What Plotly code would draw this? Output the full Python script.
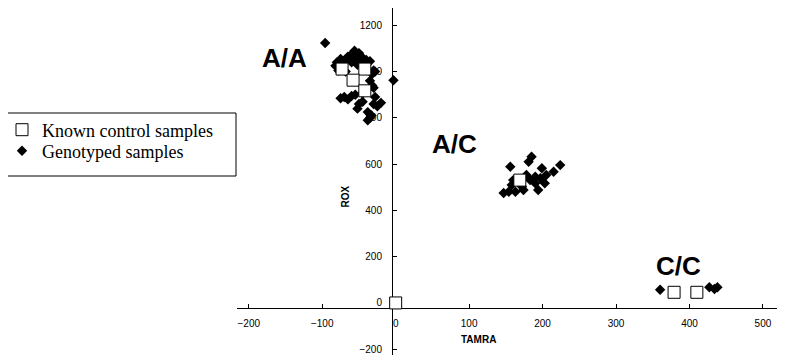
import plotly.graph_objects as go

# Known control samples (TAMRA, ROX)
control_tamra = [-73, -42, -58, -42, 169, 379, 410, 0]
control_rox = [1011, 1011, 963, 917, 531, 46, 46, 0]

# Genotyped samples (TAMRA, ROX)
geno_tamra = [
    -96, -3,
    -56, -60, -50, -65, -75, -80, -82, -70, -45, -40, -35, -30, -32, -28, -78, -68, -60, -52, -48, -55,
    -70, -65, -75, -55, -60, -45, -50, -52, -30, -28, -30, -25, -20, -38, -33, -38, -35, -32, -35, -45,
    185, 181, 156, 199, 224, 215, 205, 197, 203, 190, 194, 160, 158, 154, 163, 174, 172, 183, 147, 190, 178,
    360, 427, 434, 438,
]
geno_rox = [
    1124, 963,
    1090, 1075, 1080, 1065, 1055, 1040, 1025, 1045, 1060, 1050, 1045, 1005, 990, 1000, 1005, 1000, 1040, 1030, 1045, 1060,
    890, 880, 885, 900, 895, 870, 860, 840, 930, 890, 860, 850, 865, 825, 810, 790, 800, 940, 960, 905,
    632, 610, 589, 582, 596, 567, 553, 539, 517, 517, 488, 531, 510, 481, 481, 488, 502, 531, 475, 546, 553,
    57, 68, 60, 68,
]

x_ticks = [-200, -100, 0, 100, 200, 300, 400, 500]
y_ticks = [-200, 0, 200, 400, 600, 800, 1000, 1200]

cluster_labels = ["A/A", "A/C", "C/C"]
cluster_label_x = [-152, 80, 385]
cluster_label_y = [1059, 687, 160]

X_RANGE = [-216, 530]
Y_RANGE = [-225, 1275]
X_CROSS = -5     # where the y axis crosses
Y_CROSS = -23    # where the x axis crosses

fig = go.Figure()
fig.add_trace(go.Scatter(
    x=geno_tamra, y=geno_rox, mode="markers", name="Genotyped samples", legend="legend2",
    marker=dict(symbol="diamond", size=8, color="black", line=dict(width=0)),
))
fig.add_trace(go.Scatter(
    x=control_tamra, y=control_rox, mode="markers", name="Known control samples", legend="legend",
    marker=dict(symbol="square", size=12, color="white", line=dict(width=1, color="black")),
))

for t, x, y in zip(cluster_labels, cluster_label_x, cluster_label_y):
    fig.add_annotation(x=x, y=y, xref="x", yref="y", text=t, showarrow=False,
                       font=dict(family="Liberation Sans, Arial", size=26, color="black", weight="bold"))

# page has an 8px body margin: figure is drawn from screen pixel 8
OFF = 8
W, H = 785 - OFF, 355 - OFF
ML, MR, MT, MB = 237 - OFF, 0, 0, 0
pw, ph = W - ML - MR, H - MT - MB

def px(xs):
    return (xs - OFF - ML) / pw

def py(ys):
    return (H - MB - (ys - OFF)) / ph

fig.add_annotation(x=px(478), y=py(347), xref="paper", yref="paper", text="TAMRA",
                   showarrow=False, font=dict(family="Liberation Sans, Arial", size=10, color="black", weight="bold"))
fig.add_annotation(x=px(337), y=py(197), xref="paper", yref="paper", text="ROX", textangle=-90,
                   showarrow=False, font=dict(family="Liberation Sans, Arial", size=10, color="black", weight="bold"))

# legend frame
fig.add_shape(type="rect", xref="paper", yref="paper", x0=px(5), x1=px(236), y0=py(176), y1=py(113),
              line=dict(color="black", width=1), fillcolor="white", layer="below")

x_pos = (X_CROSS - X_RANGE[0]) / (X_RANGE[1] - X_RANGE[0])
y_pos = (Y_CROSS - Y_RANGE[0]) / (Y_RANGE[1] - Y_RANGE[0])

legend_font = dict(family="Liberation Serif, Times New Roman", size=18, color="black")

fig.update_layout(
    width=W, height=H,
    margin=dict(l=ML, r=MR, t=MT, b=MB, autoexpand=False),
    plot_bgcolor="white", paper_bgcolor="white",
    showlegend=True,
    legend=dict(x=px(2), y=py(130), xanchor="left", yanchor="middle",
                bgcolor="rgba(0,0,0,0)", borderwidth=0, font=legend_font),
    legend2=dict(x=px(2), y=py(151), xanchor="left", yanchor="middle",
                 bgcolor="rgba(0,0,0,0)", borderwidth=0, font=legend_font),
    xaxis=dict(range=X_RANGE, anchor="free", position=y_pos, showgrid=False, zeroline=False,
               showline=True, linecolor="black", linewidth=1,
               tickmode="array", tickvals=x_ticks, ticks="inside", ticklen=4, tickcolor="black",
               ticklabelstandoff=6, layer="below traces",
               tickfont=dict(family="Liberation Sans, Arial", size=10, color="black")),
    yaxis=dict(range=Y_RANGE, anchor="free", position=x_pos, showgrid=False, zeroline=False,
               showline=True, linecolor="black", linewidth=1,
               tickmode="array", tickvals=y_ticks, ticks="inside", ticklen=4, tickcolor="black",
               ticklabelstandoff=8, layer="below traces",
               tickfont=dict(family="Liberation Sans, Arial", size=10, color="black")),
)

fig.write_html("out.html")
